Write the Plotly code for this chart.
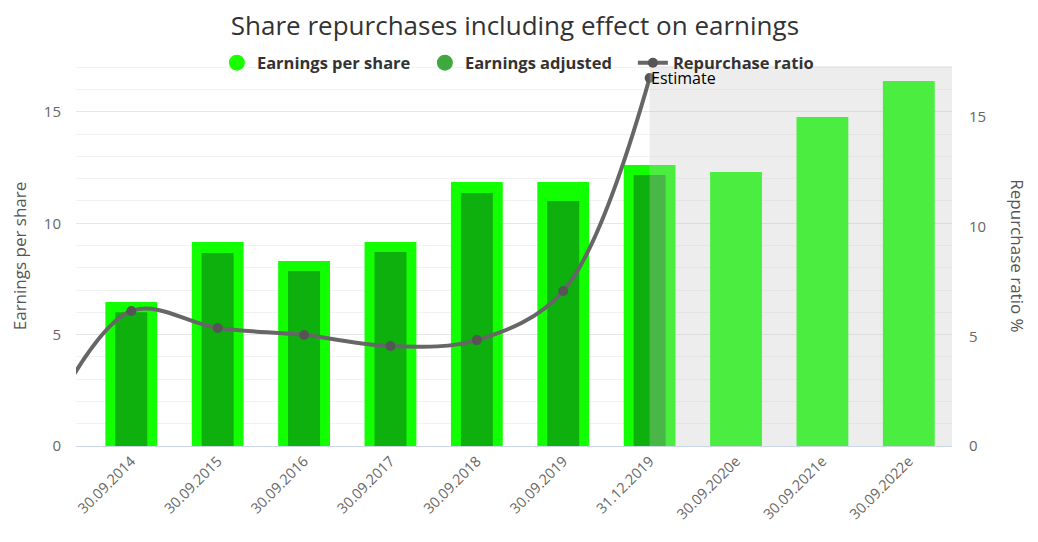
import plotly.graph_objects as go

# first category is only there so the spline comes in from the left edge
categories = ["30.09.2013", "30.09.2014", "30.09.2015", "30.09.2016", "30.09.2017",
              "30.09.2018", "30.09.2019", "31.12.2019", "30.09.2020e", "30.09.2021e",
              "30.09.2022e"]
eps = [None, 6.47, 9.16, 8.31, 9.16, 11.85, 11.85, 12.62, 12.3, 14.77, 16.39]
eps_adjusted = [None, 6.0, 8.67, 7.86, 8.71, 11.36, 11.0, 12.17, None, None, None]
repurchase_ratio = [0.9, 6.16, 5.38, 5.06, 4.56, 4.83, 7.07, 16.78, None, None, None]
estimate_from = "31.12.2019"

pos = list(range(len(categories)))
est_x = categories.index(estimate_from)

FONT = "Open Sans"

fig = go.Figure()

fig.add_trace(go.Bar(x=pos, y=eps, width=0.6, marker_color="#11ff00",
                     marker_line_width=0, showlegend=False, hoverinfo="skip"))
fig.add_trace(go.Bar(x=pos, y=eps_adjusted, width=0.37, marker_color="#0db00d",
                     marker_line_width=0, showlegend=False, hoverinfo="skip"))

# legend entries with round symbols
fig.add_trace(go.Scatter(x=[None], y=[None], mode="markers", name="Earnings per share",
                         marker=dict(symbol="circle", size=16, color="#19ff00")))
fig.add_trace(go.Scatter(x=[None], y=[None], mode="markers", name="Earnings adjusted",
                         marker=dict(symbol="circle", size=16, color="#3ea93e")))

fig.add_trace(go.Scatter(x=pos, y=repurchase_ratio, yaxis="y2", name="Repurchase ratio",
                         mode="lines+markers", line=dict(color="#666666", width=4, shape="spline"),
                         marker=dict(symbol="circle", size=10, color="#555555"),
                         connectgaps=False))

fig.add_shape(type="rect", xref="x", yref="paper", x0=est_x, x1=10.6, y0=0, y1=1,
              fillcolor="rgba(200,200,200,0.32)", line_width=0, layer="above")
fig.add_annotation(x=est_x, y=1.0, xref="x", yref="paper", text="Estimate",
                   showarrow=False, xanchor="left", yanchor="top", xshift=-1, yshift=1,
                   font=dict(family=FONT, size=16, color="#000000"))

fig.add_annotation(x=1.075, y=0.5, xref="paper", yref="paper", text="Repurchase ratio %",
                   textangle=90, showarrow=False, xanchor="center", yanchor="middle",
                   font=dict(family=FONT, size=17, color="#555555"))

fig.update_layout(
    width=1038, height=542,
    margin=dict(l=68, r=94, t=58, b=104),
    paper_bgcolor="white", plot_bgcolor="white",
    barmode="overlay",
    font=dict(family=FONT, color="#666666"),
    title=dict(text="Share repurchases including effect on earnings", x=0.4884, xanchor="center",
               y=0.967, yanchor="middle", font=dict(family=FONT, size=26, color="#333333")),
    legend=dict(orientation="h", x=0.517, xanchor="center", y=1.008, yanchor="middle",
                font=dict(family=FONT, size=16.5, color="#333333", weight="bold"),
                bgcolor="rgba(0,0,0,0)", itemsizing="trace", traceorder="normal",
                entrywidth=163, entrywidthmode="pixels"),
    xaxis=dict(tickvals=pos, ticktext=categories, range=[0.36, 10.5], tickangle=-45,
               tickfont=dict(size=14.5, color="#666666"), showgrid=False, zeroline=False,
               showline=True, linecolor="#ccd6eb", linewidth=1, ticks="", automargin=False),
    yaxis=dict(range=[0, 17.06], dtick=5, tickfont=dict(size=15, color="#666666"),
               gridcolor="#e6e6e6", zeroline=False, ticklabelstandoff=14, automargin=False,
               minor=dict(dtick=1, showgrid=True, gridcolor="#f2f2f2"),
               title=dict(text="Earnings per share", font=dict(size=17, color="#555555"), standoff=30)),
    yaxis2=dict(range=[0, 17.33], dtick=5, overlaying="y", side="right", showgrid=False,
                zeroline=False, tickfont=dict(size=15, color="#666666"), ticklabelstandoff=16,
                automargin=False),
)

fig.write_html("out.html")
